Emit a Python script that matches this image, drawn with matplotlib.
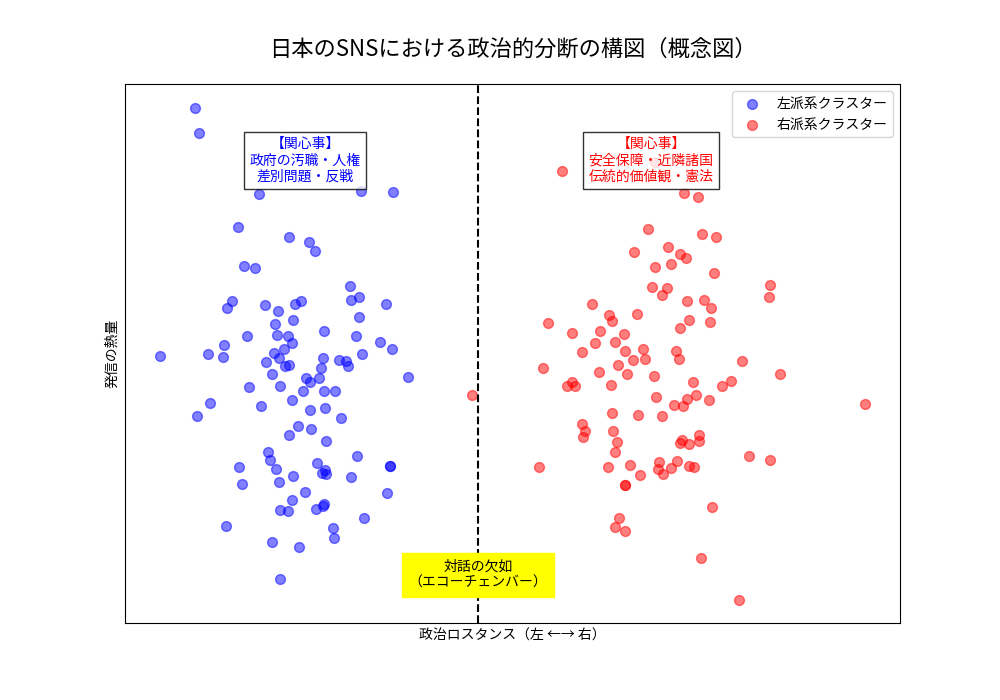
import matplotlib.pyplot as plt

plt.rcParams['font.family'] = ['Noto Sans CJK JP', 'DejaVu Sans']

# 左派系クラスター (x: 政治スタンス, y: 発信の熱量)
left_x = [-2.83, -2.79, -2.19, -1.17, -0.85, -2.40, -1.89, -1.69, -1.63, -2.34,
          -2.23, -1.28, -2.46, -2.51, -1.27, -1.19, -0.92, -2.13, -2.00, -1.83,
          -1.77, -2.03, -1.85, -1.19, -1.54, -2.31, -2.01, -1.90, -1.86, -1.22,
          -0.98, -0.86, -2.54, -1.94, -3.18, -2.70, -2.55, -2.04, -1.99, -2.12,
          -1.93, -1.89, -1.55, -1.57, -1.39, -1.32, -1.30, -1.16, -0.70, -2.06,
          -1.72, -1.68, -1.59, -2.29, -1.98, -1.75, -1.54, -1.43, -1.86, -2.68,
          -2.17, -1.68, -1.53, -2.81, -1.37, -1.80, -1.67, -1.89, -1.52, -2.10,
          -2.08, -1.21, -2.39, -2.02, -1.61, -1.53, -1.56, -1.52, -0.88, -0.88,
          -1.85, -1.27, -2.36, -1.99, -1.73, -0.91, -1.86, -1.54, -1.55, -1.98,
          -1.90, -1.62, -1.14, -2.52, -1.45, -1.44, -2.06, -1.79, -1.98]
left_y = [5.13, 4.88, 4.27, 4.30, 4.29, 3.95, 3.85, 3.80, 3.71, 3.56,
          3.54, 3.36, 3.21, 3.14, 3.22, 3.25, 3.18, 3.17, 3.11, 3.18,
          3.21, 2.98, 3.02, 3.05, 2.91, 2.86, 2.87, 2.86, 2.79, 2.86,
          2.80, 2.73, 2.77, 2.73, 2.66, 2.68, 2.65, 2.69, 2.64, 2.60,
          2.56, 2.57, 2.64, 2.54, 2.62, 2.61, 2.56, 2.68, 2.45, 2.48,
          2.44, 2.40, 2.44, 2.35, 2.36, 2.31, 2.31, 2.31, 2.22, 2.19,
          2.16, 2.12, 2.14, 2.06, 2.04, 1.96, 1.93, 1.87, 1.81, 1.70,
          1.62, 1.66, 1.55, 1.53, 1.59, 1.52, 1.49, 1.48, 1.56, 1.56,
          1.46, 1.45, 1.38, 1.40, 1.31, 1.30, 1.23, 1.19, 1.17, 1.13,
          1.12, 1.14, 1.05, 0.97, 0.95, 0.85, 0.81, 0.76, 0.44]

# 右派系クラスター
right_x = [0.84, 1.77, 2.06, 2.20, 1.70, 2.24, 2.38, 1.90, 1.56, 2.02,
           2.08, 1.77, 1.93, 2.36, 2.92, 2.91, 1.74, 1.89, 1.84, 1.14,
           2.09, 2.26, 2.33, 1.31, 1.34, 1.59, 2.11, 2.32, 0.70, 2.02,
           0.94, 1.22, 1.46, 1.17, 1.37, 1.04, 1.47, 1.65, 1.98, 2.01,
           1.55, 1.67, 2.64, 0.65, 1.40, 1.21, 1.49, 1.76, 3.02, -0.06,
           0.89, 0.94, 0.97, 1.33, 2.15, 2.44, 2.53, 1.78, 2.09, 2.18,
           2.31, 1.96, 2.05, 3.87, 1.34, 1.60, 1.84, 1.04, 1.07, 1.05,
           1.35, 1.39, 1.37, 2.21, 2.04, 2.02, 2.11, 2.21, 2.71, 2.92,
           0.61, 1.30, 1.52, 1.81, 1.99, 1.80, 1.93, 2.11, 2.16, 1.62,
           1.85, 1.47, 1.47, 2.34, 1.41, 1.37, 1.47, 2.23, 2.61]
right_y = [4.50, 4.59, 4.28, 4.24, 3.93, 3.88, 3.85, 3.75, 3.70, 3.68,
           3.64, 3.55, 3.58, 3.49, 3.37, 3.25, 3.35, 3.34, 3.27, 3.18,
           3.21, 3.22, 3.14, 3.07, 3.01, 3.08, 3.02, 3.00, 2.99, 2.94,
           2.89, 2.91, 2.88, 2.79, 2.80, 2.70, 2.71, 2.73, 2.71, 2.63,
           2.62, 2.63, 2.61, 2.54, 2.57, 2.50, 2.48, 2.46, 2.48, 2.27,
           2.36, 2.40, 2.36, 2.37, 2.40, 2.36, 2.41, 2.25, 2.23, 2.27,
           2.22, 2.17, 2.16, 2.18, 2.09, 2.07, 2.06, 1.98, 1.91, 1.85,
           1.91, 1.80, 1.70, 1.87, 1.82, 1.79, 1.78, 1.81, 1.66, 1.62,
           1.55, 1.55, 1.57, 1.60, 1.61, 1.53, 1.54, 1.56, 1.55, 1.47,
           1.48, 1.37, 1.37, 1.16, 1.05, 0.96, 0.92, 0.65, 0.23]

left_topics = '【関心事】\n政府の汚職・人権\n差別問題・反戦'
right_topics = '【関心事】\n安全保障・近隣諸国\n伝統的価値観・憲法'

fig, ax = plt.subplots(figsize=(10, 7), dpi=100)

ax.scatter(left_x, left_y, color='blue', alpha=0.5, s=50, label='左派系クラスター')
ax.scatter(right_x, right_y, color='red', alpha=0.5, s=50, label='右派系クラスター')

# 分断線
ax.axvline(0, color='black', linestyle='--', linewidth=1.5)

ax.text(-1.73, 4.61, left_topics, color='blue', fontsize=10, ha='center', va='center',
        bbox=dict(facecolor='white', alpha=0.8, edgecolor='black'))
ax.text(1.73, 4.61, right_topics, color='red', fontsize=10, ha='center', va='center',
        bbox=dict(facecolor='white', alpha=0.8, edgecolor='black'))
ax.text(0, 0.48, '対話の欠如\n（エコーチェンバー）', fontsize=10, ha='center', va='center',
        bbox=dict(facecolor='yellow', edgecolor='yellow', pad=5))

ax.set_xlim(-3.53, 4.22)
ax.set_ylim(0, 5.37)
ax.set_xticks([])
ax.set_yticks([])

ax.set_title('日本のSNSにおける政治的分断の構図（概念図）', fontsize=16, pad=20)
ax.set_xlabel('政治ロスタンス（左 ←→ 右）')
ax.set_ylabel('発信の熱量')
ax.legend(loc='upper right')

plt.savefig('out.png')
